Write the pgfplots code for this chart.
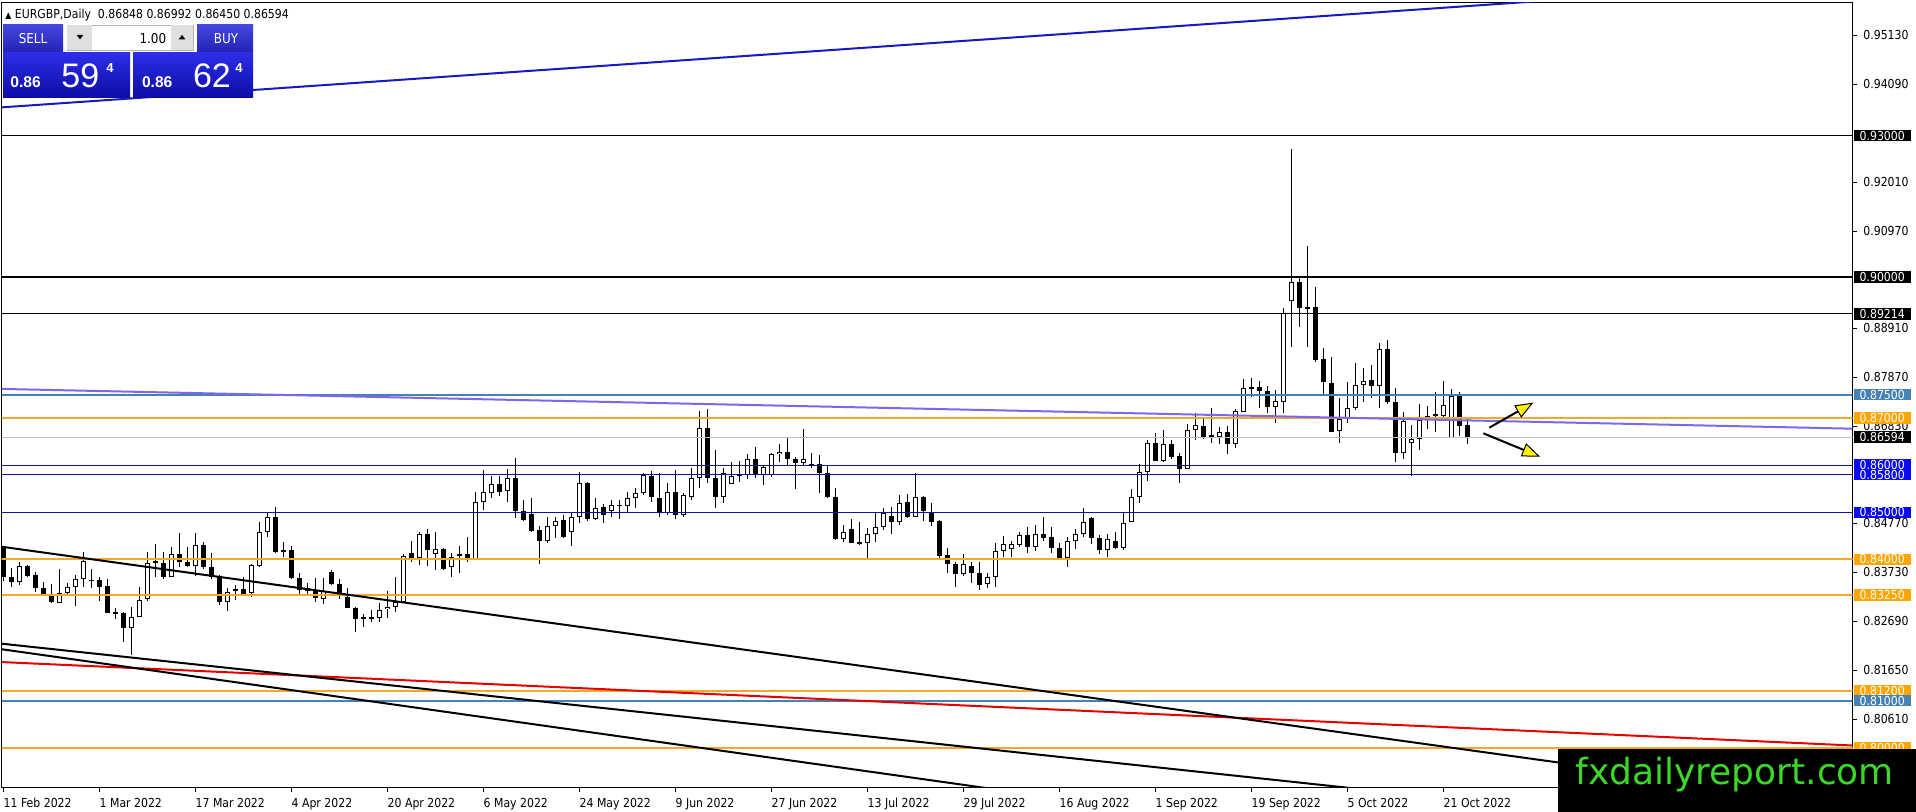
\documentclass[border=0pt]{standalone}
\usepackage{pgfplots}
\pgfplotsset{compat=1.18}
\usepackage{pgfplotstable}
\usepackage{fontspec}
\setmainfont{Liberation Sans}
\newfontfamily\mt[FakeStretch=0.88]{DejaVu Sans}
\newfontfamily\dv{DejaVu Sans}
\newfontfamily\ar{Liberation Sans}
\usetikzlibrary{arrows.meta}
\newcommand\mtf{\mt\fontsize{6.2}{7}\selectfont}
\definecolor{lvlorange}{RGB}{240,168,45}
\definecolor{lblorange}{RGB}{255,165,0}
\definecolor{lvlsteel}{RGB}{70,130,180}
\definecolor{lvlnavy}{RGB}{20,20,150}
\definecolor{lblblue}{RGB}{10,10,245}
\definecolor{slate}{RGB}{123,104,238}
\definecolor{trblue}{RGB}{25,25,190}
\definecolor{bidgray}{RGB}{192,192,192}
\definecolor{wmgreen}{RGB}{60,215,40}

\pgfplotstableread{
i o h l c
0 0.84236 0.84285 0.83549 0.83634
1 0.83634 0.83811 0.83421 0.83528
2 0.83528 0.83952 0.83457 0.83860
3 0.83860 0.83889 0.83620 0.83648
4 0.83669 0.83740 0.83315 0.83386
5 0.83386 0.83528 0.83223 0.83244
6 0.83223 0.83478 0.83075 0.83089
7 0.83082 0.83797 0.83067 0.83294
8 0.83294 0.83506 0.83244 0.83407
9 0.83407 0.83669 0.83011 0.83577
10 0.83577 0.84165 0.83421 0.83967
11 0.83563 0.83790 0.83386 0.83556
12 0.83563 0.83634 0.83124 0.83421
13 0.83436 0.83591 0.82862 0.82869
14 0.82876 0.82961 0.82728 0.82862
15 0.82869 0.82890 0.82253 0.82551
16 0.82537 0.82997 0.81970 0.82784
17 0.82784 0.83421 0.82770 0.83138
18 0.83152 0.84165 0.83124 0.83917
19 0.83967 0.84328 0.83634 0.83917
20 0.83917 0.84165 0.83577 0.83634
21 0.83634 0.84271 0.83634 0.84108
22 0.84108 0.84554 0.83832 0.83952
23 0.83952 0.84271 0.83832 0.83860
24 0.83860 0.84568 0.83648 0.84306
25 0.84306 0.84377 0.83790 0.83832
26 0.83832 0.84129 0.83577 0.83634
27 0.83648 0.83669 0.83032 0.83103
28 0.83103 0.83386 0.82912 0.83315
29 0.83329 0.83457 0.83138 0.83365
30 0.83365 0.83634 0.83244 0.83266
31 0.83280 0.83903 0.83195 0.83882
32 0.83860 0.84802 0.83846 0.84590
33 0.84590 0.84979 0.84469 0.84894
34 0.84894 0.85106 0.84144 0.84165
35 0.84193 0.84377 0.84044 0.84172
36 0.84200 0.84285 0.83577 0.83599
37 0.83598 0.83705 0.83259 0.83351
38 0.83386 0.83492 0.83244 0.83329
39 0.83351 0.83613 0.83103 0.83174
40 0.83159 0.83613 0.83046 0.83329
41 0.83726 0.83775 0.83457 0.83471
42 0.83471 0.83584 0.83159 0.83259
43 0.83209 0.83386 0.82961 0.82975
44 0.82975 0.82997 0.82452 0.82735
45 0.82770 0.82834 0.82572 0.82756
46 0.82770 0.82926 0.82678 0.82756
47 0.82763 0.83068 0.82678 0.82926
48 0.82947 0.83329 0.82749 0.82997
49 0.82997 0.83634 0.82890 0.83103
50 0.83103 0.84108 0.83068 0.84080
51 0.84129 0.84391 0.83938 0.84009
52 0.84023 0.84575 0.83882 0.84533
53 0.84533 0.84646 0.83867 0.84200
54 0.84108 0.84575 0.83775 0.84214
55 0.84214 0.84250 0.83775 0.83797
56 0.83846 0.84129 0.83634 0.84059
57 0.84066 0.84292 0.83705 0.84108
58 0.84108 0.84483 0.83938 0.84009
59 0.84009 0.85439 0.83988 0.85227
60 0.85227 0.85899 0.85050 0.85425
61 0.85404 0.85779 0.85312 0.85595
62 0.85595 0.85779 0.85354 0.85439
63 0.85453 0.85921 0.85227 0.85737
64 0.85737 0.86161 0.84887 0.85029
65 0.85029 0.85262 0.84816 0.84837
66 0.84958 0.85312 0.84590 0.84604
67 0.84625 0.84717 0.83896 0.84391
68 0.84391 0.84908 0.84342 0.84717
69 0.84717 0.84908 0.84448 0.84816
70 0.84837 0.84944 0.84448 0.84483
71 0.84590 0.85000 0.84292 0.84894
72 0.84894 0.85850 0.84767 0.85616
73 0.85616 0.85652 0.84816 0.84859
74 0.84859 0.85298 0.84837 0.85099
75 0.85107 0.85177 0.84781 0.84944
76 0.85036 0.85262 0.84908 0.85156
77 0.85163 0.85262 0.84852 0.85149
78 0.85135 0.85439 0.84979 0.85298
79 0.85298 0.85510 0.85085 0.85404
80 0.85404 0.85829 0.85368 0.85793
81 0.85779 0.85885 0.85227 0.85319
82 0.85298 0.85829 0.84894 0.84993
83 0.84993 0.85630 0.84944 0.85425
84 0.85425 0.85899 0.84852 0.84944
85 0.84944 0.85404 0.84908 0.85368
86 0.85333 0.85935 0.85262 0.85722
87 0.85722 0.87160 0.85510 0.86784
88 0.86784 0.87188 0.85630 0.85722
89 0.85722 0.86324 0.85085 0.85333
90 0.85333 0.85935 0.85191 0.85829
91 0.85602 0.86076 0.85602 0.85772
92 0.85807 0.86091 0.85652 0.85765
93 0.85793 0.86239 0.85715 0.86126
94 0.86126 0.86381 0.85722 0.85793
95 0.85793 0.85984 0.85581 0.85956
96 0.85793 0.86268 0.85744 0.86239
97 0.86239 0.86452 0.86076 0.86289
98 0.86289 0.86593 0.86006 0.86126
99 0.86126 0.86183 0.85489 0.86041
100 0.86041 0.86763 0.86006 0.86126
101 0.86020 0.86268 0.85935 0.86006
102 0.86020 0.86218 0.85404 0.85829
103 0.85829 0.85984 0.85298 0.85319
104 0.85319 0.85510 0.84420 0.84427
105 0.84427 0.84731 0.84377 0.84590
106 0.84639 0.84852 0.84349 0.84356
107 0.84363 0.84802 0.84306 0.84349
108 0.84356 0.84660 0.84023 0.84540
109 0.84540 0.84979 0.84377 0.84696
110 0.84682 0.85085 0.84625 0.84979
111 0.84923 0.85121 0.84540 0.84802
112 0.84802 0.85369 0.84732 0.85192
113 0.85213 0.85390 0.84873 0.84895
114 0.84909 0.85829 0.84902 0.85319
115 0.85319 0.85348 0.84824 0.85036
116 0.84994 0.85206 0.84710 0.84802
117 0.84817 0.84838 0.84024 0.84080
118 0.84095 0.84236 0.83719 0.83903
119 0.83903 0.83953 0.83422 0.83684
120 0.83684 0.84116 0.83648 0.83903
121 0.83861 0.83953 0.83507 0.83705
122 0.83705 0.83953 0.83351 0.83457
123 0.83471 0.83719 0.83386 0.83620
124 0.83620 0.84342 0.83422 0.84186
125 0.84186 0.84498 0.84059 0.84321
126 0.84215 0.84399 0.84059 0.84321
127 0.84307 0.84590 0.84271 0.84512
128 0.84512 0.84682 0.84144 0.84257
129 0.84257 0.84732 0.84179 0.84533
130 0.84533 0.84895 0.84399 0.84463
131 0.84470 0.84696 0.84144 0.84236
132 0.84236 0.84356 0.84010 0.84024
133 0.84024 0.84484 0.83847 0.84399
134 0.84399 0.84640 0.84215 0.84533
135 0.84533 0.85086 0.84484 0.84802
136 0.84873 0.84909 0.84328 0.84449
137 0.84449 0.84519 0.84116 0.84201
138 0.84201 0.84533 0.84045 0.84427
139 0.84399 0.84590 0.84215 0.84236
140 0.84236 0.84994 0.84201 0.84781
141 0.84802 0.85489 0.84795 0.85333
142 0.85333 0.86027 0.85192 0.85864
143 0.85864 0.86537 0.85673 0.86480
144 0.86480 0.86693 0.86091 0.86098
145 0.86098 0.86749 0.86077 0.86452
146 0.86452 0.86537 0.86126 0.86183
147 0.86197 0.86254 0.85631 0.85914
148 0.85921 0.86870 0.85914 0.86749
149 0.86749 0.87103 0.86537 0.86855
150 0.86834 0.87032 0.86558 0.86587
151 0.86643 0.87210 0.86466 0.86594
152 0.86594 0.86820 0.86445 0.86700
153 0.86714 0.86841 0.86233 0.86445
154 0.86445 0.87195 0.86374 0.87153
155 0.87139 0.87832 0.87124 0.87634
156 0.87613 0.87861 0.87457 0.87655
157 0.87655 0.87790 0.87210 0.87585
158 0.87585 0.87691 0.87103 0.87245
159 0.87245 0.87599 0.86891 0.87365
160 0.87351 0.89333 0.87103 0.89227
161 0.89489 0.92718 0.88519 0.89886
162 0.89886 0.90006 0.88944 0.89348
163 0.89355 0.90657 0.88519 0.89340
164 0.89355 0.89794 0.88187 0.88236
165 0.88257 0.88498 0.87507 0.87762
166 0.87740 0.88307 0.86700 0.86714
167 0.86728 0.87436 0.86466 0.86983
168 0.86983 0.87762 0.86891 0.87210
169 0.87210 0.88165 0.87174 0.87705
170 0.87705 0.88059 0.87337 0.87790
171 0.87811 0.88130 0.87436 0.87691
172 0.87691 0.88590 0.87224 0.88470
173 0.88470 0.88661 0.87294 0.87351
174 0.87351 0.87648 0.86062 0.86254
175 0.86254 0.87124 0.86133 0.86940
176 0.86466 0.86855 0.85779 0.86558
177 0.86558 0.87294 0.86324 0.86962
178 0.86962 0.87266 0.86771 0.87054
179 0.87089 0.87549 0.86714 0.87068
180 0.87054 0.87790 0.86997 0.87280
181 0.86587 0.87620 0.86587 0.87478
182 0.87478 0.87549 0.86629 0.86841
183 0.86848 0.86992 0.86450 0.86594
}\candles

\tikzset{lbl/.style={anchor=west, text=white, font=\mtf, inner sep=0pt,
  minimum width=28.5pt, minimum height=5.8pt, xshift=0.3pt}}

\begin{document}
\begin{tikzpicture}[x=1pt,y=1pt]
\path[use as bounding box] (0,0) rectangle (958,406);
\fill[white] (0,0) rectangle (958,406);
\begin{axis}[
  at={(0.85pt,12pt)}, anchor=south west,
  scale only axis, width=925.5pt, height=392.65pt,
  xmin=-0.2, xmax=231.175, ymin=0.79145, ymax=0.95825,
  enlargelimits=false, scaled ticks=false,
  axis line style={black, line width=0.5pt},
  tick style={black, line width=0.5pt},
  tick align=outside, major tick length=2pt,
  xtick pos=bottom, ytick pos=right, yticklabel pos=right,
  xtick={0,12,...,180},
  xticklabels={11 Feb 2022,1 Mar 2022,17 Mar 2022,4 Apr 2022,20 Apr 2022,6 May 2022,24 May 2022,9 Jun 2022,27 Jun 2022,13 Jul 2022,29 Jul 2022,16 Aug 2022,1 Sep 2022,19 Sep 2022,5 Oct 2022,21 Oct 2022},
  ytick={0.80610,0.81650,0.82690,0.83730,0.84770,0.86830,0.87870,0.88910,0.90970,0.92010,0.94090,0.95130},
  yticklabels={0.80610,0.81650,0.82690,0.83730,0.84770,0.86830,0.87870,0.88910,0.90970,0.92010,0.94090,0.95130},
  xticklabel style={font=\mtf, anchor=north west, inner sep=0pt, yshift=-3pt},
  yticklabel style={font=\mtf, anchor=west, inner sep=0pt, xshift=3.15pt},
  after end axis/.code={
    \node[lbl, fill=black] at (axis cs:231.175,0.93) {0.93000};
    \node[lbl, fill=black] at (axis cs:231.175,0.90) {0.90000};
    \node[lbl, fill=black] at (axis cs:231.175,0.89214) {0.89214};
    \node[lbl, fill=lvlsteel] at (axis cs:231.175,0.875) {0.87500};
    \node[lbl, fill=lblorange] at (axis cs:231.175,0.87) {0.87000};
    \node[lbl, fill=black] at (axis cs:231.175,0.86594) {0.86594};
    \node[lbl, fill=lblblue] at (axis cs:231.175,0.86) {0.86000};
    \node[lbl, fill=lblblue] at (axis cs:231.175,0.858) {0.85800};
    \node[lbl, fill=lblblue] at (axis cs:231.175,0.85) {0.85000};
    \node[lbl, fill=lblorange] at (axis cs:231.175,0.84) {0.84000};
    \node[lbl, fill=lblorange] at (axis cs:231.175,0.8325) {0.83250};
    \node[lbl, fill=lblorange] at (axis cs:231.175,0.812) {0.81200};
    \node[lbl, fill=lvlsteel] at (axis cs:231.175,0.81) {0.81000};
    \node[lbl, fill=lblorange] at (axis cs:231.175,0.80) {0.80000};
  },
]
% wicks
\addplot[draw=none, mark=none, forget plot,
  error bars/.cd, y dir=both, y explicit, error mark=none,
  error bar style={draw=black, line width=0.5pt}]
  table[x=i, y expr={(\thisrow{h}+\thisrow{l})/2}, y error expr={(\thisrow{h}-\thisrow{l})/2}] {\candles};
% bodies (black)
\addplot[draw=none, mark=none, forget plot,
  error bars/.cd, y dir=both, y explicit, error mark=none,
  error bar style={draw=black, line width=2.5pt}]
  table[x=i, y expr={(\thisrow{o}+\thisrow{c})/2}, y error expr={max(abs(\thisrow{o}-\thisrow{c})/2,0.000106)}] {\candles};
% bullish inner (white)
\addplot[draw=none, mark=none, forget plot,
  error bars/.cd, y dir=both, y explicit, error mark=none,
  error bar style={draw=white, line width=1.5pt}]
  table[x=i, y expr={(\thisrow{o}+\thisrow{c})/2}, y error expr={max((\thisrow{c}-\thisrow{o})/2-0.000212,0)}] {\candles};

% horizontal levels
\addplot[black, line width=0.5pt] coordinates {(-1,0.93) (232,0.93)};
\addplot[black, line width=1pt] coordinates {(-1,0.90) (232,0.90)};
\addplot[black, line width=0.5pt] coordinates {(-1,0.89214) (232,0.89214)};
\addplot[lvlsteel, line width=1pt] coordinates {(-1,0.875) (232,0.875)};
\addplot[lvlorange, line width=1pt] coordinates {(-1,0.87) (232,0.87)};
\addplot[bidgray, line width=0.5pt] coordinates {(-1,0.86594) (232,0.86594)};
\addplot[lvlnavy, line width=0.5pt] coordinates {(-1,0.86) (232,0.86)};
\addplot[lvlnavy, line width=0.5pt] coordinates {(-1,0.858) (232,0.858)};
\addplot[lvlnavy, line width=0.5pt] coordinates {(-1,0.85) (232,0.85)};
\addplot[lvlorange, line width=1pt] coordinates {(-1,0.84) (232,0.84)};
\addplot[lvlorange, line width=1pt] coordinates {(-1,0.8325) (232,0.8325)};
\addplot[lvlorange, line width=1pt] coordinates {(-1,0.812) (232,0.812)};
\addplot[lvlsteel, line width=1pt] coordinates {(-1,0.81) (232,0.81)};
\addplot[lvlorange, line width=1pt] coordinates {(-1,0.80) (232,0.80)};

% trend lines
\addplot[trblue, line width=1pt] coordinates {(-0.41,0.93599) (231.1,0.96317)};
\addplot[slate, line width=1pt] coordinates {(-0.41,0.87622) (231.1,0.86777)};
\addplot[red!90!black, line width=1pt] coordinates {(-0.41,0.81821) (231.1,0.80048)};
\addplot[black, line width=1pt] coordinates {(-0.41,0.84274) (231.1,0.78822)};
\addplot[black, line width=1pt] coordinates {(-0.41,0.82214) (231.1,0.78004)};
\addplot[black, line width=1pt] coordinates {(-0.41,0.82097) (231.1,0.76551)};

% arrows
\draw[black, line width=1pt, -{Triangle[length=9pt,width=7pt,fill=yellow,line width=0.5pt]}]
  (axis cs:185.75,0.86798) -- (axis cs:191.25,0.87329);
\draw[black, line width=1pt, -{Triangle[length=9pt,width=7pt,fill=yellow,line width=0.5pt]}]
  (axis cs:185.0,0.86679) -- (axis cs:192.09,0.86182);
\end{axis}

% title
\node[anchor=base west, inner sep=0pt, font=\mtf] at (2.5,396.85)
  {{\fontsize{4.5}{5}\selectfont ▲}\ EURGBP,Daily\ \ 0.86848 0.86992 0.86450 0.86594};

% trading panel
\shade[top color={rgb,255:red,70;green,70;blue,225}, bottom color={rgb,255:red,35;green,35;blue,180}] (1.5,380) rectangle (31.5,393.5);
\shade[top color={rgb,255:red,70;green,70;blue,225}, bottom color={rgb,255:red,35;green,35;blue,180}] (98.5,380) rectangle (126.5,393.5);
\fill[white] (33.5,381) rectangle (96.5,393.5);
\draw[gray!60, line width=0.4pt] (33.5,381) rectangle (96.5,393.5);
\fill[gray!25] (33.6,381.1) rectangle (46,393.4);
\fill[gray!25] (85.5,381.1) rectangle (96.4,393.4);
\fill[black] (38.3,388.5) -- (41.7,388.5) -- (40,386.3) -- cycle;
\fill[black] (89.3,386.3) -- (92.7,386.3) -- (91,388.5) -- cycle;
\node[font=\mt\fontsize{6.8}{7}\selectfont, text=white, inner sep=0pt] at (16.5,386.6) {SELL};
\node[font=\mt\fontsize{6.8}{7}\selectfont, text=white, inner sep=0pt] at (113,386.6) {BUY};
\node[font=\mt\fontsize{6.8}{7}\selectfont, text=black, inner sep=0pt, anchor=east] at (83.3,386.6) {1.00};
\shade[top color={rgb,255:red,45;green,45;blue,232}, bottom color={rgb,255:red,12;green,12;blue,165}] (1.5,357) rectangle (65,379.5);
\shade[top color={rgb,255:red,45;green,45;blue,232}, bottom color={rgb,255:red,12;green,12;blue,165}] (66.5,357) rectangle (126.5,379.5);
\node[anchor=base west, inner sep=0pt, text=white, font=\ar\bfseries\fontsize{7.8}{8}\selectfont] at (5,362.4) {0.86};
\node[anchor=base west, inner sep=0pt, text=white, font=\ar\fontsize{17}{17}\selectfont] at (30.5,362.4) {59};
\node[anchor=north west, inner sep=0pt, text=white, font=\ar\bfseries\fontsize{6.5}{7}\selectfont] at (53,374.3) {4};
\node[anchor=base west, inner sep=0pt, text=white, font=\ar\bfseries\fontsize{7.8}{8}\selectfont] at (70.8,362.4) {0.86};
\node[anchor=base west, inner sep=0pt, text=white, font=\ar\fontsize{17}{17}\selectfont] at (96.3,362.4) {62};
\node[anchor=north west, inner sep=0pt, text=white, font=\ar\bfseries\fontsize{6.5}{7}\selectfont] at (117.5,374.3) {4};

% watermark
\fill[black] (779,0) rectangle (958,31.5);
\node[anchor=base west, inner sep=0pt, text=wmgreen, font=\dv\fontsize{18}{18}\selectfont] at (787.5,13.5) {fxdailyreport.com};
\end{tikzpicture}
\end{document}
